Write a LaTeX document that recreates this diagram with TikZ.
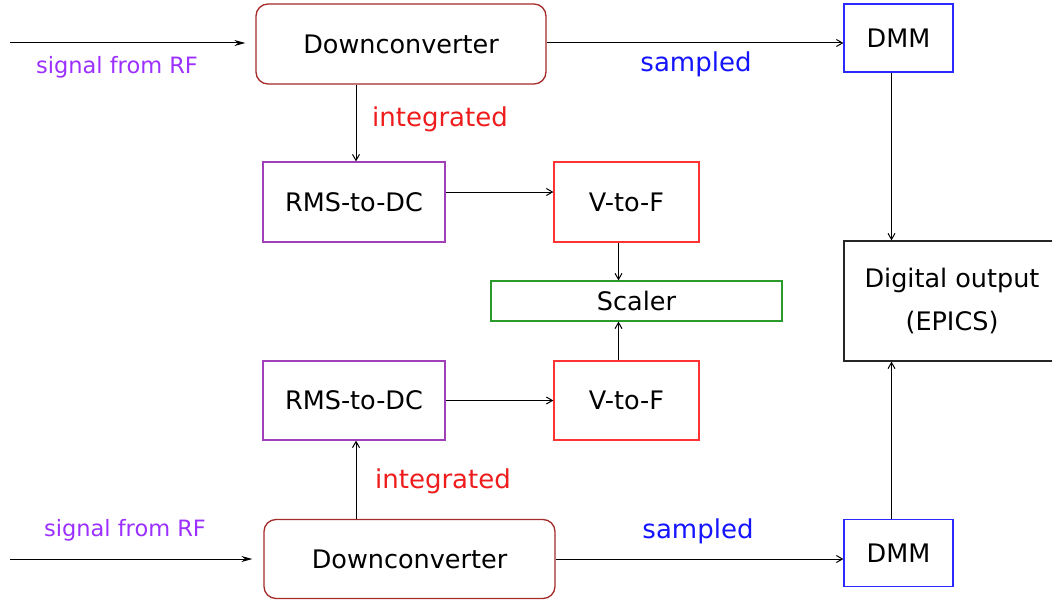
\documentclass[tikz,border=0pt]{standalone}
\usepackage{xcolor}
\usepackage{fontspec}
\setmainfont{DejaVu Sans}
\usepackage{tikz}
\usetikzlibrary{positioning, arrows.meta, calc}
\definecolor{dcred}{HTML}{A52A2A}
\definecolor{rmspurple}{HTML}{A040B8}
\definecolor{vtfred}{HTML}{FF3333}
\definecolor{scalergreen}{HTML}{2A9A2A}
\definecolor{dmmblue}{HTML}{2A2AFF}
\definecolor{lblred}{HTML}{EE1C1C}
\definecolor{lblblue}{HTML}{1414FF}
\definecolor{lblviolet}{HTML}{9B30FF}

\begin{document}
\begin{tikzpicture}[x=1pt, y=-1pt,
    box/.style={draw, line width=1.3pt, inner sep=0pt,
                font=\fontsize{25.5}{43}\selectfont},
    lbl/.style={font=\fontsize{26}{32}\selectfont},
    flow/.style={line width=1pt, -{Straight Barb[length=6pt, width=7pt]}},
    feed/.style={line width=1pt, -{Stealth[length=11pt, width=6pt]}}]
    \useasboundingbox (0,0) rectangle (1052,602);

    % blocks
    \node[box, draw=dcred, rounded corners=12pt, minimum width=290pt, minimum height=80pt]
        (dcTop) at (401,44) {Downconverter};
    \node[box, draw=dcred, rounded corners=12pt, minimum width=291pt, minimum height=79pt]
        (dcBot) at (409.5,559) {Downconverter};
    \node[box, draw=rmspurple, minimum width=182pt, minimum height=80pt]
        (rmsTop) at (354,202) {RMS-to-DC};
    \node[box, draw=rmspurple, minimum width=182pt, minimum height=79pt]
        (rmsBot) at (354,400.5) {RMS-to-DC};
    \node[box, draw=vtfred, minimum width=145pt, minimum height=80pt]
        (vtfTop) at (626.5,202) {V-to-F};
    \node[box, draw=vtfred, minimum width=145pt, minimum height=79pt]
        (vtfBot) at (626.5,400.5) {V-to-F};
    \node[box, draw=scalergreen, minimum width=291pt, minimum height=40pt]
        (scaler) at (636.5,301) {Scaler};
    \node[box, draw=dmmblue, minimum width=109pt, minimum height=68pt]
        (dmmTop) at (898.5,38) {DMM};
    \node[box, draw=dmmblue, minimum width=109pt, minimum height=67pt]
        (dmmBot) at (898.5,553) {DMM};
    \node[box, draw=black!85, minimum width=216pt, minimum height=120pt, align=center]
        (digOut) at (952,301) {Digital output\\(EPICS)};

    % inputs
    \coordinate (inTop) at (10,43);
    \coordinate (inBot) at (10,559);
    \draw[feed, shorten >=10pt] (inTop) -- (dcTop.west |- inTop);
    \draw[feed, shorten >=11pt] (inBot) -- (dcBot.west |- inBot);

    % connectors
    \draw[flow] ([yshift=1pt]dcTop.east) -- ([yshift=1pt]dmmTop.west |- dcTop.east);
    \draw[flow] (dcBot.east) -- (dmmBot.west |- dcBot.east);
    \draw[flow] ([xshift=2pt]rmsTop.north |- dcTop.south) -- ([xshift=2pt]rmsTop.north);
    \draw[flow] ([xshift=2pt]rmsBot.south |- dcBot.north) -- ([xshift=2pt]rmsBot.south);
    \draw[flow] ([yshift=10pt]rmsTop.east) -- ([yshift=10pt]vtfTop.west);
    \draw[flow] (rmsBot.east) -- (vtfBot.west);
    \draw[flow] ([xshift=-8pt]vtfTop.south) -- ([xshift=-8pt]vtfTop.south |- scaler.north);
    \draw[flow] ([xshift=-8pt]vtfBot.north) -- ([xshift=-8pt]vtfBot.north |- scaler.south);
    \draw[flow] ([xshift=-7pt]dmmTop.south) -- ([xshift=-7pt]dmmTop.south |- digOut.north);
    \draw[flow] ([xshift=-7pt]dmmBot.north) -- ([xshift=-7pt]dmmBot.north |- digOut.south);

    % labels
    \node[font=\fontsize{22.5}{28}\selectfont, text=lblviolet] (rfTop) at (117,67) {signal from RF};
    \node[font=\fontsize{22.5}{28}\selectfont, text=lblviolet] (rfBot) at (125,530) {signal from RF};
    \node[lbl, text=lblred] (intTop) at (440,119) {integrated};
    \node[lbl, text=lblred] (intBot) at (443,481) {integrated};
    \node[lbl, text=lblblue] (smpTop) at (696,64) {sampled};
    \node[lbl, text=lblblue] (smpBot) at (698,531) {sampled};
\end{tikzpicture}
\end{document}
